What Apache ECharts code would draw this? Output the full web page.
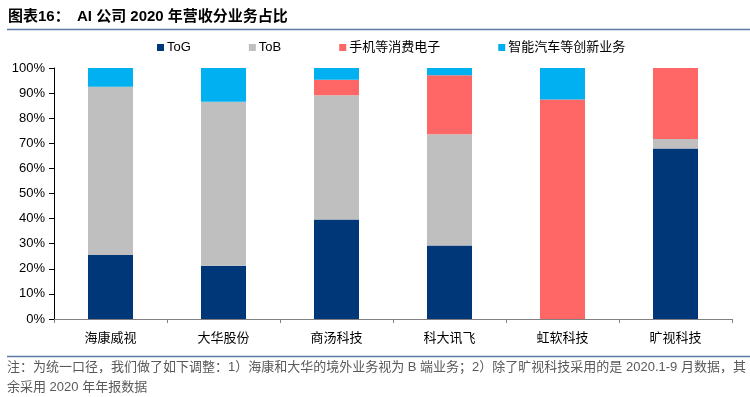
<!DOCTYPE html>
<html>
<head>
<meta charset="utf-8">
<script src="https://cdn.jsdelivr.net/npm/echarts@6/dist/echarts.min.js"></script>
<style>
html,body{margin:0;padding:0;background:#fff;}
#chart{width:750px;height:397px;}
</style>
</head>
<body>
<div id="chart"></div>
<script>
const categories = ['海康威视', '大华股份', '商汤科技', '科大讯飞', '虹软科技', '旷视科技'];
const seriesNames = ['ToG', 'ToB', '手机等消费电子', '智能汽车等创新业务'];
const toG = [25.5, 21.2, 39.6, 29.3, 0, 67.9];
const toB = [67.0, 65.4, 49.5, 44.3, 0, 3.8];
const consumer = [0, 0, 6.2, 23.5, 87.5, 28.3];
const auto = [7.5, 13.4, 4.7, 2.9, 12.5, 0];
const yTicks = ['0%', '10%', '20%', '30%', '40%', '50%', '60%', '70%', '80%', '90%', '100%'];
const colors = ['#003778', '#BFBFBF', '#FF6666', '#00B0F0'];

const latin = '"Liberation Sans", Arial, sans-serif';
const cjk = '"Noto Sans CJK SC", sans-serif';
const mixed = '"Liberation Sans", "Noto Sans CJK SC", sans-serif';

const chart = echarts.init(document.getElementById('chart'), null, {renderer: 'canvas'});
const values = [toG, toB, consumer, auto];
chart.setOption({
  animation: false,
  color: colors,
  grid: {left: 54, right: 18, top: 68, bottom: 78, containLabel: false},
  legend: {
    left: 152, top: 36,
    icon: 'rect', itemWidth: 7, itemHeight: 7, itemGap: 58,
    textStyle: {fontSize: 13, color: '#000', fontFamily: mixed, padding: [0,0,0,-2]},
    data: seriesNames
  },
  xAxis: {
    type: 'category', data: categories,
    axisLine: {lineStyle: {color: '#808080', width: 1}},
    axisTick: {show: true, length: 4, lineStyle: {color: '#808080'}},
    axisLabel: {fontSize: 13, color: '#000', fontFamily: cjk, margin: 12}
  },
  yAxis: {
    type: 'value', min: 0, max: 100, interval: 10,
    axisLine: {show: true, lineStyle: {color: '#000', width: 1}},
    axisTick: {show: true, inside: false, length: 5, lineStyle: {color: '#000'}},
    splitLine: {show: false},
    axisLabel: {fontSize: 13, color: '#000', fontFamily: latin, margin: 9,
      formatter: function (v) { return yTicks[Math.round(v / 10)]; }}
  },
  series: seriesNames.map((n, i) => ({
    name: n, type: 'bar', stack: 'total', barWidth: 45,
    data: values[i],
    itemStyle: {color: colors[i]}
  })),
  graphic: [
    {type: 'text', left: 8, top: 9, style: {text: '图表16：', font: 'bold 15px ' + mixed, fill: '#000'}},
    {type: 'text', left: 77, top: 9, style: {text: 'AI 公司 2020 年营收分业务占比', font: 'bold 15px ' + mixed, fill: '#000'}},
    {type: 'line', shape: {x1: 7, y1: 29.5, x2: 750, y2: 29.5}, style: {stroke: '#5B7BA6', lineWidth: 1.5}},
    {type: 'line', shape: {x1: 7, y1: 356.5, x2: 750, y2: 356.5}, style: {stroke: '#5B7BA6', lineWidth: 1.5}},
    {type: 'text', left: 7, top: 361, style: {text: '注：为统一口径，我们做了如下调整：1）海康和大华的境外业务视为 B 端业务；2）除了旷视科技采用的是 2020.1-9 月数据，其', font: '13px ' + mixed, fill: '#595959'}},
    {type: 'text', left: 7, top: 381, style: {text: '余采用 2020 年年报数据', font: '13px ' + mixed, fill: '#595959'}}
  ]
});
</script>
</body>
</html>
